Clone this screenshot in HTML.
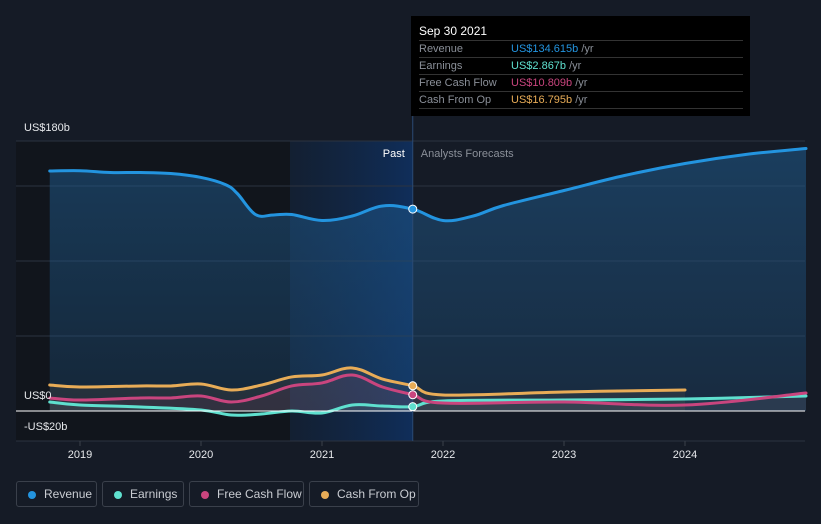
<!DOCTYPE html>
<html><head><meta charset="utf-8"><style>
body{margin:0;background:#151b26;width:821px;height:524px;overflow:hidden;font-family:"Liberation Sans",sans-serif}
svg{position:absolute;left:0;top:0}
.tt{position:absolute;left:411px;top:16px;width:339px;height:100px;background:#000;color:#fff;font-size:11px}
.tt .h{position:absolute;left:8px;top:8px;font-size:12px}
.tt .r{position:absolute;left:8px;width:324px;height:16px;border-top:1px solid #333;color:#8a8f98}
.tt .r span{position:absolute;left:92px;top:2px}
.tt .r b{font-weight:normal}
.lg{position:absolute;top:481px;height:26px;border:1px solid #3a404b;border-radius:3px;box-sizing:border-box;color:#c9ccd2;font-size:12px;line-height:25px;padding-left:27px}
.lg i{position:absolute;left:11px;top:9px;width:8px;height:8px;border-radius:50%}
</style></head><body>
<svg id="c" width="821" height="524"></svg>
<div class="tt">
<div class="h">Sep 30 2021</div>
<div class="r" style="top:24px"><div style="padding-top:2px">Revenue</div><span><b style="color:#2394df">US$134.615b</b> /yr</span></div>
<div class="r" style="top:41px"><div style="padding-top:2px">Earnings</div><span><b style="color:#5fe0cf">US$2.867b</b> /yr</span></div>
<div class="r" style="top:58px"><div style="padding-top:2px">Free Cash Flow</div><span><b style="color:#c9457e">US$10.809b</b> /yr</span></div>
<div class="r" style="top:75px"><div style="padding-top:2px">Cash From Op</div><span><b style="color:#e8ac57">US$16.795b</b> /yr</span></div>
<div class="r" style="top:92px;height:0"></div>
</div>
<div class="lg" style="left:16px;width:81px"><i style="background:#2394df"></i>Revenue</div>
<div class="lg" style="left:102px;width:82px"><i style="background:#5fe0cf"></i>Earnings</div>
<div class="lg" style="left:189px;width:115px"><i style="background:#c9457e"></i>Free Cash Flow</div>
<div class="lg" style="left:309px;width:110px"><i style="background:#e8ac57"></i>Cash From Op</div>
<script>
const revT=[2018.75,2019,2019.25,2019.5,2019.75,2020,2020.2,2020.3,2020.45,2020.6,2020.75,2021,2021.25,2021.5,2021.75,2022,2022.25,2022.5,2023,2023.5,2024,2024.5,2025];
const revV=[160,160.2,159,159,158.3,155.7,151,145,131,130.7,131,127,130,136.7,134.6,127,130,137,147,157,165,171,175];
const cfoT=[2018.75,2019,2019.5,2019.75,2020,2020.25,2020.5,2020.75,2021,2021.25,2021.5,2021.75,2022,2023,2024];
const cfoV=[17.3,16,16.7,16.7,18,14,17.3,22.7,24,28.7,21.3,16.8,10.7,12.7,14];
const fcfT=[2018.75,2019,2019.5,2019.75,2020,2020.25,2020.5,2020.75,2021,2021.25,2021.5,2021.75,2022,2023,2024,2025];
const fcfV=[8.7,7.3,8.7,8.7,10,6,10,16.7,18.7,24,16,10.8,5.3,6,4,12];
const earT=[2018.75,2019,2019.5,2020,2020.25,2020.5,2020.75,2021,2021.25,2021.5,2021.75,2022,2023,2024,2025];
const earV=[6,4,2.7,0.7,-2.7,-2,0,-1.3,4,3.3,2.9,6.7,7.3,8,10];
const yTicks=[180,0,-20];
const yLabels=["US$180b","US$0","-US$20b"];
const xTicks=[2019,2020,2021,2022,2023,2024];
const NOW=2021.75;
const X=t=>80+(t-2019)*121, Y=v=>411-v*1.5;
const svg=document.getElementById('c');const NS='http://www.w3.org/2000/svg';
function el(tag,a,p){const e=document.createElementNS(NS,tag);for(const k in a)e.setAttribute(k,a[k]);(p||svg).appendChild(e);return e;}
function path(T,V){const P=T.map((t,i)=>[X(t),Y(V[i])]);let d='M'+P[0][0]+','+P[0][1];
for(let i=0;i<P.length-1;i++){const p0=P[i-1]||P[i],p1=P[i],p2=P[i+1],p3=P[i+2]||p2;const k=0.18;
d+=' C'+(p1[0]+(p2[0]-p0[0])*k)+','+(p1[1]+(p2[1]-p0[1])*k)+' '+(p2[0]-(p3[0]-p1[0])*k)+','+(p2[1]-(p3[1]-p1[1])*k)+' '+p2[0]+','+p2[1];}return d;}
const defs=el('defs',{});
defs.innerHTML='<linearGradient id="gr" x1="0" y1="0" x2="0" y2="1"><stop offset="0" stop-color="#1f5a8c" stop-opacity=".55"/><stop offset="1" stop-color="#1f5a8c" stop-opacity=".25"/></linearGradient><linearGradient id="pb" x1="0" y1="0" x2="1" y2="0"><stop offset="0" stop-color="#0f2a4e" stop-opacity=".3"/><stop offset="1" stop-color="#0f3060" stop-opacity=".9"/></linearGradient>';
let r=el('rect',{x:16,y:141,width:274,height:300,fill:'#11151c'});
r=el('rect',{x:290,y:141,width:X(NOW)-290,height:300,fill:'url(#pb)'});
[180,150,100,50,-20].forEach(v=>{const l=el('line',{x1:16,x2:805,y1:Y(v),y2:Y(v),stroke:'#2c3340','stroke-width':1});});
const series=[[revT,revV,'#2394df','revenue'],[cfoT,cfoV,'#e8ac57','cash-from-op'],[fcfT,fcfV,'#c9457e','free-cash-flow'],[earT,earV,'#5fe0cf','earnings']];
series.forEach(([T,V,c,n])=>{const d=path(T,V);
const a=el('path',{d:d+' L'+X(T[T.length-1])+','+Y(0)+' L'+X(T[0])+','+Y(0)+'Z',fill:n==='revenue'?'url(#gr)':c,'fill-opacity':n==='revenue'?1:0.08});
});
series.slice().reverse().forEach(([T,V,c,n])=>{const l=el('path',{d:path(T,V),fill:'none',stroke:c,'stroke-width':3,'stroke-linecap':'round'});
});
let z=el('line',{x1:16,x2:805,y1:Y(0),y2:Y(0),stroke:'#fff','stroke-width':1});
let nl=el('line',{x1:X(NOW),x2:X(NOW),y1:16,y2:441,stroke:'#2b4a73','stroke-width':1});
series.forEach(([T,V,c,n])=>{const i=T.indexOf(NOW);const p=el('circle',{cx:X(NOW),cy:Y(V[i]),r:4,fill:c,stroke:'#fff','stroke-width':1});
});
yTicks.forEach((v,i)=>{const t=el('text',{x:24,y:Y(v)-8+(v===180?-2:v===0?-4:0)+(v===-20?-3:0),fill:'#e6e8eb','font-size':11});t.textContent=yLabels[i];
});
xTicks.forEach(y=>{const tk=el('line',{x1:X(y),x2:X(y),y1:441,y2:446,stroke:'#3a404b'});
const t=el('text',{x:X(y),y:458,fill:'#e6e8eb','font-size':11,'text-anchor':'middle'});t.textContent=y;});
let t=el('text',{x:X(NOW)-8,y:157,fill:'#fff','font-size':11,'text-anchor':'end'});t.textContent='Past';
t=el('text',{x:X(NOW)+8,y:157,fill:'#8a8f98','font-size':11});t.textContent='Analysts Forecasts';
</script>
</body></html>
